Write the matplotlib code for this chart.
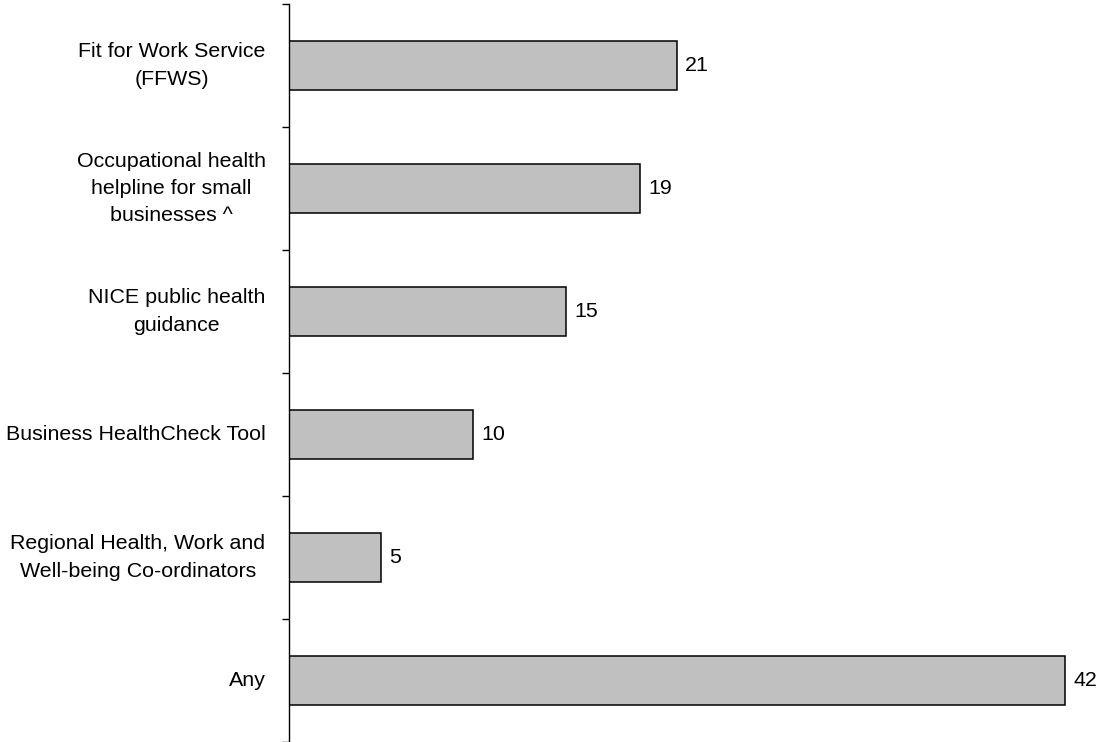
import matplotlib
matplotlib.use("Agg")
import matplotlib.pyplot as plt
import numpy as np

categories = [
    "Fit for Work Service\n(FFWS)",
    "Occupational health\nhelpline for small\nbusinesses ^",
    "NICE public health\nguidance",
    "Business HealthCheck Tool",
    "Regional Health, Work and\nWell-being Co-ordinators",
    "Any",
]
values = [21, 19, 15, 10, 5, 42]

plt.rcParams['font.family'] = ['Liberation Sans', 'DejaVu Sans']

W, H = 1097, 742
fig = plt.figure(figsize=(W / 100, H / 100), dpi=100)
ax_left = 288.5 / W
ax_bottom = 0.0
ax_top = (H - 4) / H
xmax = 43
px_per_unit = (1065 - 288.5) / 42
ax_width = xmax * px_per_unit / W
ax = fig.add_axes([ax_left, ax_bottom, ax_width, ax_top - ax_bottom])

n = len(categories)
pos = np.arange(n)
ax.barh(pos, values, height=0.395, color='#C0C0C0', edgecolor='black', linewidth=1.1, zorder=2)
ax.set_ylim(n - 0.5, -0.5)
ax.set_xlim(0, xmax)

for p, v in zip(pos, values):
    ax.annotate(str(v), xy=(v, p), xytext=(6, 0), textcoords='offset points',
                ha='left', va='center', fontsize=15.4, color='black')

ax.set_yticks(pos)
ax.set_yticklabels(categories, fontsize=15.4, multialignment='center', linespacing=1.55, va='center')
ax.tick_params(axis='y', which='major', length=0, pad=16.5)
ax.set_yticks(np.arange(-0.5, n + 0.5, 1), minor=True)
ax.tick_params(axis='y', which='minor', length=4.8, width=1, direction='out', color='black')

ax.set_xticks([])
for s in ['top', 'right', 'bottom']:
    ax.spines[s].set_visible(False)
ax.spines['left'].set_color('black')
ax.spines['left'].set_linewidth(1)

fig.savefig('out.png', dpi=100)
